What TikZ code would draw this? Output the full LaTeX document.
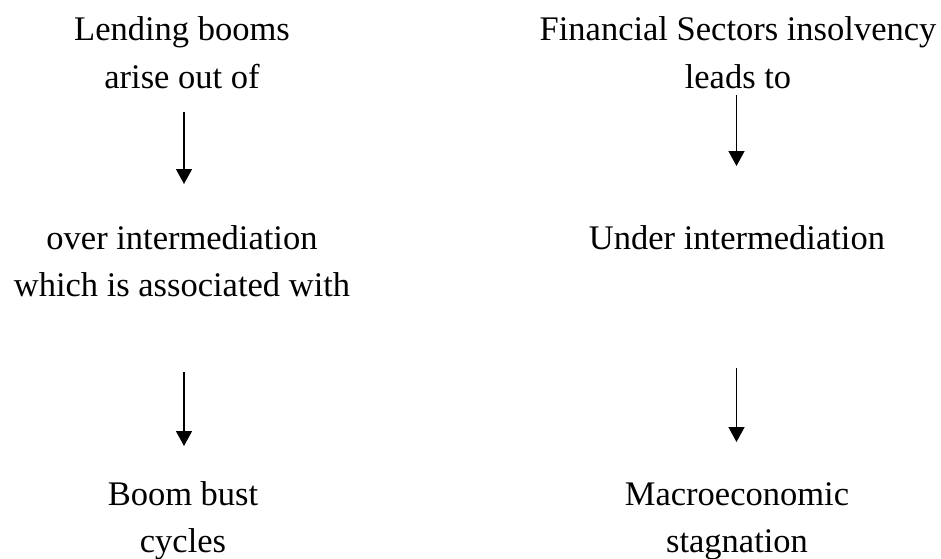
\documentclass[tikz,border=0pt]{standalone}
\usepackage{fontspec}
\setmainfont{Liberation Serif}
\usetikzlibrary{arrows.meta}
\begin{document}
\begin{tikzpicture}[x=1pt,y=-1pt,
  lbl/.style={anchor=base,align=center,inner sep=0pt,font=\fontsize{34.5}{47.6}\selectfont},
  flow/.style={-{Triangle[width=16pt,length=15pt]},line width=1.4pt}]
\useasboundingbox (0,0) rectangle (941,558);
\node[lbl] (lb) at (182,88.3) {Lending booms\\arise out of};
\node[lbl] (oi) at (182,296.6) {over intermediation\\which is associated with};
\node[lbl] (bb) at (183,552.7) {Boom bust\\cycles};
\node[lbl] (fs) at (738,88.3) {Financial Sectors insolvency\\leads to};
\node[lbl] (ui) at (737,249.3) {Under intermediation};
\node[lbl] (ms) at (737,552.7) {Macroeconomic\\stagnation};
\coordinate (a1s) at (184,112);
\coordinate (a1e) at (184,184);
\coordinate (a2s) at (184,372);
\coordinate (a2e) at (184,446);
\coordinate (a3s) at (736.5,95);
\coordinate (a3e) at (736.5,166);
\coordinate (a4s) at (736.5,368);
\coordinate (a4e) at (736.5,442);
\draw[flow] (a1s) -- (a1e);
\draw[flow] (a2s) -- (a2e);
\draw[flow] (a3s) -- (a3e);
\draw[flow] (a4s) -- (a4e);
\end{tikzpicture}
\end{document}
